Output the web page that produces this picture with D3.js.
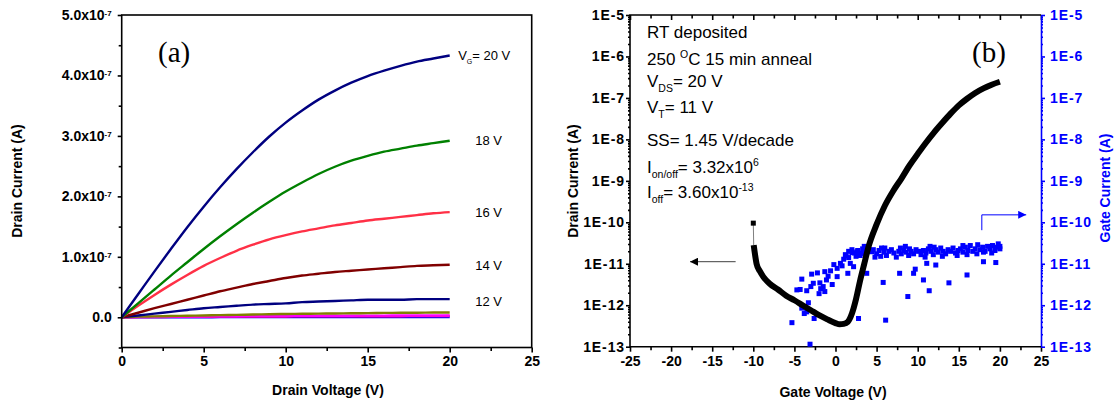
<!DOCTYPE html>
<html>
<head>
<meta charset="utf-8">
<script src="https://cdn.jsdelivr.net/npm/d3@7"></script>
<style>
body { margin: 0; background: #fff; }
svg { display: block; font-family: Arial, "Liberation Sans", sans-serif; }
.axis path, .axis line { stroke: #000; stroke-width: 1.6; }
.axis text { font-size: 14px; font-weight: bold; fill: #000; }
.wide text { letter-spacing: 0.9px; }
.blue path, .blue line { stroke: #0000ff; }
.blue text { fill: #0000ff; }
</style>
</head>
<body>
<svg id="chart" width="1118" height="405"></svg>
<script>
// ---------- panel (a): output curves, current in units of 1e-7 A ----------
var drainV = [0, 1, 2, 3, 4, 5, 6, 7, 8, 9, 10, 11, 12, 13, 14, 15, 16, 17, 18, 19, 20];
var id20 = [0, 0.38, 0.76, 1.13, 1.49, 1.83, 2.15, 2.45, 2.73, 2.99, 3.22, 3.42, 3.6, 3.75, 3.88, 3.99, 4.08, 4.16, 4.23, 4.28, 4.33];
var id18 = [0, 0.23, 0.46, 0.69, 0.91, 1.13, 1.34, 1.54, 1.73, 1.91, 2.08, 2.23, 2.37, 2.49, 2.59, 2.67, 2.74, 2.79, 2.84, 2.88, 2.92];
var id16 = [0, 0.19, 0.37, 0.54, 0.7, 0.85, 0.98, 1.1, 1.2, 1.29, 1.36, 1.42, 1.47, 1.52, 1.56, 1.6, 1.63, 1.66, 1.69, 1.72, 1.74];
var id14 = [0, 0.075, 0.15, 0.22, 0.29, 0.36, 0.43, 0.49, 0.55, 0.6, 0.65, 0.69, 0.72, 0.75, 0.77, 0.79, 0.81, 0.83, 0.85, 0.86, 0.87];
var id12 = [0, 0.03, 0.06, 0.09, 0.12, 0.15, 0.17, 0.19, 0.21, 0.22, 0.23, 0.25, 0.26, 0.27, 0.28, 0.29, 0.29, 0.29, 0.3, 0.3, 0.3];
var id10 = [0, 0.01, 0.015, 0.02, 0.025, 0.03, 0.035, 0.04, 0.045, 0.05, 0.055, 0.058, 0.06, 0.063, 0.066, 0.069, 0.072, 0.074, 0.076, 0.078, 0.08];
var id8 = [0, 0.004, 0.007, 0.01, 0.012, 0.014, 0.016, 0.018, 0.02, 0.021, 0.022, 0.023, 0.024, 0.025, 0.026, 0.027, 0.028, 0.029, 0.03, 0.03, 0.03];
var id7 = [0, 0.002, 0.004, 0.006, 0.008, 0.009, 0.01, 0.011, 0.012, 0.013, 0.014, 0.015, 0.016, 0.016, 0.017, 0.017, 0.018, 0.018, 0.019, 0.019, 0.02];
var id6 = [0, 0, 0, 0.001, 0.001, 0.001, 0.002, 0.002, 0.002, 0.002, 0.003, 0.003, 0.003, 0.003, 0.003, 0.004, 0.004, 0.004, 0.004, 0.004, 0.004];
var gateLabels = ["20 V", "18 V", "16 V", "14 V", "12 V"];
var yTicksA = [0, 1, 2, 3, 4, 5];
var xTicksA = [0, 5, 10, 15, 20, 25];

// ---------- panel (b): transfer curve (log10 of drain current) ----------
var transferV = [-10, -9.95, -9.6, -9.2, -8.8, -8, -7, -6, -5, -4, -3, -2, -1, 0, 0.5, 1, 1.5, 2, 2.5, 3, 3.5, 4, 5, 6, 7, 8, 9, 10, 11, 12, 13, 14, 15, 16, 17, 18, 19, 20];
var transferLog = [-10.02, -10.55, -11.0, -11.18, -11.31, -11.48, -11.62, -11.77, -11.88, -12.0, -12.12, -12.24, -12.34, -12.43, -12.46, -12.45, -12.4, -12.2, -11.85, -11.4, -11.0, -10.6, -10.05, -9.6, -9.25, -8.95, -8.63, -8.35, -8.08, -7.83, -7.6, -7.38, -7.18, -7.02, -6.88, -6.77, -6.68, -6.61];

// gate current scatter (log10 of gate current)
var gateV = [-5.3, -3.1, -4.1, -4.7, -4.3, -2.9, -2.2, -2.7, -3.5, -3.3, -4.1, -3.5, -2.6, -3.8, -1.9, -1.5, -1.3, -1.1, -1.3, -0.6, -0.4, 0.2, 0.6, 0.2, 1.5, 1.0, 1.3, 1.8, 2.2, 2.0, 2.6, 3.2, 3.8, 3.8, 2.8, 4.4, 5.8, 6.1, 7.8, 8.8, 9.5, 9.7, 10.7, 11.1, 11.4, 12.2, 13.8, 16.0, 18.0, 19.5, -0.9, 0.8, -1.8, -0.2, 1.6, -2.0, -3.0,
  1.2, 1.6, 2.0, 2.3, 2.7, 3.0, 3.3, 3.6, 4.0, 4.3, 4.6, 5.0, 5.3, 5.6, 5.9, 6.2, 6.5, 6.8, 7.1, 7.4, 7.7, 8.0, 8.3, 8.6, 8.9, 9.2, 9.5, 9.8, 10.1, 10.4, 10.7, 11.0, 11.3, 11.6, 11.9, 12.2, 12.5, 12.8, 13.1, 13.4, 13.7, 14.0, 14.3, 14.6, 14.9, 15.2, 15.5, 15.8, 16.1, 16.4, 16.7, 17.0, 17.3, 17.6, 17.9, 18.2, 18.5, 18.8, 19.1, 19.4, 19.7, 20.0,
  2.5, 4.8, 6.0, 7.9, 9.0, 10.9, 12.0, 13.0, 14.8, 16.0, 17.2, 18.0, 19.0, 19.8, 20.0, 15.5, 11.5, 8.5, 5.5, 3.5];
var gateLog = [-12.42, -12.94, -11.37, -11.63, -11.62, -11.25, -11.22, -11.47, -11.65, -11.94, -12.07, -12.16, -12.32, -12.2, -11.46, -11.55, -11.67, -11.39, -11.19, -11.17, -11.5, -11.11, -10.99, -11.31, -11.23, -10.89, -10.81, -10.99, -11.07, -10.73, -10.71, -10.75, -10.65, -11.23, -12.32, -10.71, -11.45, -12.36, -11.23, -11.79, -11.23, -11.13, -11.39, -10.99, -11.65, -11.03, -11.46, -11.27, -10.95, -10.97, -11.3, -11.05, -11.6, -11.02, -10.85, -11.72, -11.55,
  -10.78, -10.7, -10.66, -10.74, -10.68, -10.8, -10.64, -10.72, -10.6, -10.7, -10.66, -10.76, -10.68, -10.62, -10.72, -10.8, -10.7, -10.66, -10.74, -10.84, -10.7, -10.76, -10.68, -10.72, -10.8, -10.7, -10.76, -10.66, -10.7, -10.78, -10.68, -10.74, -10.64, -10.7, -10.78, -10.66, -10.72, -10.62, -10.7, -10.76, -10.66, -10.7, -10.62, -10.74, -10.68, -10.64, -10.72, -10.6, -10.68, -10.56, -10.7, -10.64, -10.54, -10.66, -10.6, -10.7, -10.58, -10.64, -10.56, -10.68, -10.6, -10.64,
  -10.82, -10.84, -10.62, -10.62, -10.64, -10.84, -10.6, -10.82, -10.8, -10.78, -10.76, -10.72, -10.74, -10.52, -10.58, -10.56, -10.58, -10.58, -10.82, -10.58];
var xTicksB = [-25, -20, -15, -10, -5, 0, 5, 10, 15, 20, 25];
var logTicksB = [1e-13, 1e-12, 1e-11, 1e-10, 1e-9, 1e-8, 1e-7, 1e-6, 1e-5];

var svg = d3.select("#chart");

// ======================= PANEL (a) =======================
var A = { left: 121.7, right: 531.7, top: 15, bottom: 347.5 };
var xA = d3.scaleLinear().domain([0, 25]).range([A.left, A.right]);
var yA = d3.scaleLinear().domain([-0.5, 5]).range([A.bottom, A.top]);

var curves = [
    { values: id6, color: "#0000ff" },
    { values: id7, color: "#ff0080" },
    { values: id8, color: "#ff00ff" },
    { values: id10, color: "#808000" },
    { values: id12, color: "#000080" },
    { values: id14, color: "#800000" },
    { values: id16, color: "#ff3046" },
    { values: id18, color: "#008000" },
    { values: id20, color: "#000080" }
];

var lineA = d3.line()
    .x(function(d) { return xA(d[0]); })
    .y(function(d) { return yA(d[1]); })
    .curve(d3.curveMonotoneX);

svg.append("g").selectAll("path")
    .data(curves)
    .enter().append("path")
    .attr("d", function(c) {
        return lineA(drainV.map(function(v, i) { return [v, c.values[i]]; }));
    })
    .attr("fill", "none")
    .attr("stroke", function(c) { return c.color; })
    .attr("stroke-width", 2.4);

// axes
var gxA = svg.append("g").attr("class", "axis").attr("transform", "translate(0," + A.bottom + ")")
    .call(d3.axisBottom(xA).tickValues(xTicksA).tickSize(5).tickSizeOuter(0).tickPadding(4).tickFormat(d3.format("d")));
gxA.select(".domain").remove();
var gxAm = svg.append("g").attr("class", "axis").attr("transform", "translate(0," + A.bottom + ")")
    .call(d3.axisBottom(xA).tickValues([2.5, 7.5, 12.5, 17.5, 22.5]).tickSize(3.5).tickFormat(""));
gxAm.select(".domain").remove();

var gyA = svg.append("g").attr("class", "axis").attr("transform", "translate(" + A.left + ",0)")
    .call(d3.axisLeft(yA).tickValues(yTicksA).tickSize(4).tickSizeOuter(0).tickPadding(6));
gyA.select(".domain").remove();
gyA.selectAll(".tick text").each(function(d) {
    var t = d3.select(this).text(null);
    if (d === 0) { t.text("0.0"); return; }
    t.append("tspan").text(d.toFixed(1) + "x10");
    t.append("tspan").attr("dy", "-0.5em").attr("font-size", "8px").text("-7");
});
var gyAm = svg.append("g").attr("class", "axis").attr("transform", "translate(" + A.left + ",0)")
    .call(d3.axisLeft(yA).tickValues([-0.5, 0.5, 1.5, 2.5, 3.5, 4.5]).tickSize(3).tickFormat(""));
gyAm.select(".domain").remove();

svg.append("rect")
    .attr("x", A.left).attr("y", A.top)
    .attr("width", A.right - A.left).attr("height", A.bottom - A.top)
    .attr("fill", "none").attr("stroke", "#000").attr("stroke-width", 1.6);

// gate voltage labels
var labelCurves = [id20, id18, id16, id14, id12];
var labelA = svg.append("g").attr("font-size", "13px").attr("fill", "#000");
labelCurves.forEach(function(vals, i) {
    var y = yA(vals[vals.length - 1]) + 4 + i * 0.6;
    if (i === 0) {
        var t = labelA.append("text").attr("x", xA(20) + 8.5).attr("y", y);
        t.append("tspan").text("V");
        t.append("tspan").attr("dy", 4).attr("font-size", "7px").text("G");
        t.append("tspan").attr("dy", -4).text("= " + gateLabels[0]);
    } else {
        labelA.append("text").attr("x", xA(20) + 25.5).attr("y", y).text(gateLabels[i]);
    }
});

svg.append("text").attr("x", 158).attr("y", 62)
    .attr("font-family", "'Liberation Serif', 'Times New Roman', serif")
    .attr("font-size", "29px").text("(a)");

svg.append("text")
    .attr("transform", "translate(22,181) rotate(-90)")
    .attr("text-anchor", "middle").attr("font-size", "14px").attr("font-weight", "bold")
    .text("Drain Current (A)");
svg.append("text").attr("x", 328).attr("y", 395)
    .attr("text-anchor", "middle").attr("font-size", "14px").attr("font-weight", "bold")
    .text("Drain Voltage (V)");

// ======================= PANEL (b) =======================
var B = { left: 630, right: 1041, top: 15, bottom: 346.7 };
var xB = d3.scaleLinear().domain([-25, 25]).range([B.left, B.right]);
var yB = d3.scaleLog().domain([1e-13, 1e-5]).range([B.bottom, B.top]);

var minorLog = [];
for (var k = -13; k < -5; k++) {
    for (var m = 2; m < 10; m++) minorLog.push(m * Math.pow(10, k));
}
var fmtE = function(d) { return "1E" + Math.round(Math.log10(d)); };

// bottom axis
var gxB = svg.append("g").attr("class", "axis").attr("transform", "translate(0," + B.bottom + ")")
    .call(d3.axisBottom(xB).tickValues(xTicksB).tickSize(5).tickSizeOuter(0).tickPadding(4).tickFormat(function(d) { return String(d); }));
gxB.select(".domain").remove();
var gxBm = svg.append("g").attr("class", "axis").attr("transform", "translate(0," + B.bottom + ")")
    .call(d3.axisBottom(xB).tickValues([-22.5, -17.5, -12.5, -7.5, -2.5, 2.5, 7.5, 12.5, 17.5, 22.5]).tickSize(3.5).tickFormat(""));
gxBm.select(".domain").remove();

// top axis (ticks inside)
var gtB = svg.append("g").attr("class", "axis").attr("transform", "translate(0," + B.top + ")")
    .call(d3.axisTop(xB).tickValues(xTicksB).tickSize(-5).tickSizeOuter(0).tickFormat(""));
gtB.select(".domain").remove();
var gtBm = svg.append("g").attr("class", "axis").attr("transform", "translate(0," + B.top + ")")
    .call(d3.axisTop(xB).tickValues([-22.5, -17.5, -12.5, -7.5, -2.5, 2.5, 7.5, 12.5, 17.5, 22.5]).tickSize(-3.5).tickFormat(""));
gtBm.select(".domain").remove();

// left log axis
var gyB = svg.append("g").attr("class", "axis wide").attr("transform", "translate(" + B.left + ",0)")
    .call(d3.axisLeft(yB).tickValues(logTicksB).tickSize(4).tickSizeOuter(0).tickPadding(1).tickFormat(fmtE));
gyB.select(".domain").remove();
var gyBm = svg.append("g").attr("class", "axis").attr("transform", "translate(" + B.left + ",0)")
    .call(d3.axisLeft(yB).tickValues(minorLog).tickSize(2).tickFormat(""));
gyBm.select(".domain").remove();

// right log axis (gate current, blue)
var gy2B = svg.append("g").attr("class", "axis blue wide").attr("transform", "translate(" + B.right + ",0)")
    .call(d3.axisRight(yB).tickValues(logTicksB).tickSize(4).tickSizeOuter(0).tickPadding(5).tickFormat(fmtE));
var gy2Bm = svg.append("g").attr("class", "axis blue").attr("transform", "translate(" + B.right + ",0)")
    .call(d3.axisRight(yB).tickValues(minorLog).tickSize(2).tickFormat(""));
gy2Bm.select(".domain").remove();

// frame lines (top, bottom, left)
svg.append("path")
    .attr("d", "M" + B.right + "," + B.top + "H" + B.left + "V" + B.bottom + "H" + B.right)
    .attr("fill", "none").attr("stroke", "#000").attr("stroke-width", 1.6);

// gate current scatter
svg.append("g").selectAll("rect")
    .data(gateV.map(function(v, i) { return [v, Math.pow(10, gateLog[i])]; }))
    .enter().append("rect")
    .attr("x", function(d) { return xB(d[0]) - 2.5; })
    .attr("y", function(d) { return yB(d[1]) - 2.5; })
    .attr("width", 5).attr("height", 5)
    .attr("fill", "#0000ff");

// drain current transfer curve
var transfer = transferV.map(function(v, i) { return [v, Math.pow(10, transferLog[i])]; });
var lineB = d3.line()
    .x(function(d) { return xB(d[0]); })
    .y(function(d) { return yB(d[1]); })
    .curve(d3.curveMonotoneX);
svg.append("path")
    .attr("d", d3.line().x(function(d) { return xB(d[0]); }).y(function(d) { return yB(d[1]); })(transfer.slice(0, 2)))
    .attr("stroke", "#808080").attr("stroke-width", 1);
svg.append("path")
    .attr("d", lineB(transfer.slice(1)))
    .attr("fill", "none").attr("stroke", "#000").attr("stroke-width", 6)
    .attr("stroke-linejoin", "round");
svg.append("rect")
    .attr("x", xB(transfer[0][0]) - 2.5).attr("y", yB(transfer[0][1]) - 2.5)
    .attr("width", 5).attr("height", 5).attr("fill", "#000");

// arrows
var defs = svg.append("defs");
defs.append("marker").attr("id", "headK").attr("viewBox", "0 0 10 10").attr("refX", 10).attr("refY", 5)
    .attr("markerWidth", 11).attr("markerHeight", 8).attr("markerUnits", "userSpaceOnUse").attr("orient", "auto")
    .append("path").attr("d", "M0,0L10,5L0,10Z").attr("fill", "#000");
defs.append("marker").attr("id", "headB").attr("viewBox", "0 0 10 10").attr("refX", 10).attr("refY", 5)
    .attr("markerWidth", 11).attr("markerHeight", 8).attr("markerUnits", "userSpaceOnUse").attr("orient", "auto")
    .append("path").attr("d", "M0,0L10,5L0,10Z").attr("fill", "#0000ff");

svg.append("line")
    .attr("x1", xB(-12.15)).attr("y1", yB(Math.pow(10, -10.95)))
    .attr("x2", xB(-17.7)).attr("y2", yB(Math.pow(10, -10.95)))
    .attr("stroke", "#404040").attr("stroke-width", 1).attr("marker-end", "url(#headK)");
svg.append("path")
    .attr("d", "M" + xB(17.8) + "," + yB(Math.pow(10, -10.19)) + "V" + yB(Math.pow(10, -9.82)) + "H" + xB(23.2))
    .attr("fill", "none").attr("stroke", "#0000ff").attr("stroke-width", 1).attr("marker-end", "url(#headB)");

// annotation block
function richText(x, y, parts) {
    var t = svg.append("text").attr("x", x).attr("y", y).attr("font-size", "17px").attr("fill", "#000");
    var cur = 0;
    parts.forEach(function(p) {
        var off = p[1] === "sup" ? -7 : (p[1] === "sub" ? 5 : 0);
        var s = t.append("tspan").attr("dy", off - cur).text(p[0]);
        if (p[1]) s.attr("font-size", "10.5px");
        cur = off;
    });
}
richText(647, 38.3, [["RT deposited"]]);
richText(647, 65, [["250 "], ["O", "sup"], ["C 15 min anneal"]]);
richText(647, 87.3, [["V"], ["DS", "sub"], ["= 20 V"]]);
richText(647, 112.7, [["V"], ["T", "sub"], ["= 11 V"]]);
richText(647, 145.7, [["SS= 1.45 V/decade"]]);
richText(647, 173.3, [["I"], ["on/off", "sub"], ["= 3.32x10"], ["6", "sup"]]);
richText(647, 198, [["I"], ["off", "sub"], ["= 3.60x10"], ["-13", "sup"]]);

svg.append("text").attr("x", 972).attr("y", 62)
    .attr("font-family", "'Liberation Serif', 'Times New Roman', serif")
    .attr("font-size", "29px").text("(b)");

svg.append("text")
    .attr("transform", "translate(578,181) rotate(-90)")
    .attr("text-anchor", "middle").attr("font-size", "14px").attr("font-weight", "bold")
    .text("Drain Current (A)");
svg.append("text")
    .attr("transform", "translate(1110,188) rotate(-90)")
    .attr("text-anchor", "middle").attr("font-size", "14px").attr("font-weight", "bold").attr("fill", "#0000ff")
    .text("Gate Current (A)");
svg.append("text").attr("x", 833).attr("y", 397)
    .attr("text-anchor", "middle").attr("font-size", "14px").attr("font-weight", "bold")
    .text("Gate Voltage (V)");
</script>
</body>
</html>
